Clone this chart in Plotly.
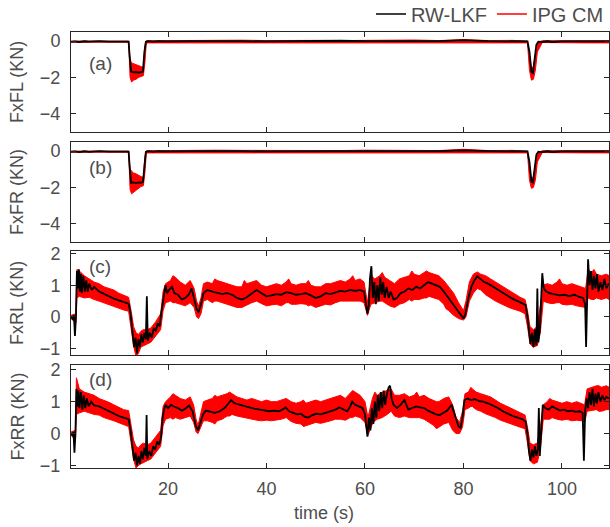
import plotly.graph_objects as go

# ---------------- data ----------------
TIME_TICKS = [20, 40, 60, 80, 100]
PANEL_NAMES = ["FxFL (KN)", "FxFR (KN)", "FxRL (KN)", "FxRR (KN)"]
PANEL_TAGS = ["(a)", "(b)", "(c)", "(d)"]

# RW-LKF estimate (black) : (time s, force kN)
FXFL_RWLKF = [(0.3, -0.04), (1, -0.02), (2, -0.05), (3, -0.01), (4, -0.03), (6, 0.0), (8, -0.03), (10, -0.02),
              (12.0, -0.03), (12.2, -0.8), (12.5, -1.68), (13, -1.72), (13.5, -1.7), (14, -1.73), (14.5, -1.72),
              (14.9, -1.68), (15.2, -0.6), (15.5, -0.04), (16, 0.0), (17, -0.03), (18, 0.0), (20, -0.02),
              (25, 0.0), (30, 0.02), (35, 0.0), (40, -0.02), (45, 0.0), (50, 0.0), (55, 0.02), (60, 0.0),
              (65, -0.02), (70, 0.0), (75, 0.0), (80, 0.05), (85, 0.0), (90, -0.02), (93.0, -0.02),
              (93.4, -0.6), (93.8, -1.7), (94.1, -1.75), (94.5, -1.0), (94.8, -0.2), (95.2, -0.03),
              (96, -0.05), (97, -0.01), (98, -0.05), (100, -0.02), (105, -0.03), (109.6, -0.02)]

FXFR_RWLKF = [(0.3, -0.04), (1, -0.02), (2, -0.06), (3, -0.01), (4, -0.04), (6, 0.0), (8, -0.03), (10, -0.02),
              (12.0, -0.03), (12.2, -0.8), (12.5, -1.75), (13, -1.72), (13.5, -1.76), (14, -1.72), (14.5, -1.74),
              (14.9, -1.7), (15.2, -0.6), (15.5, -0.04), (16, 0.0), (17, -0.03), (18, 0.0), (20, -0.02),
              (25, 0.0), (30, 0.02), (35, 0.0), (40, -0.02), (45, 0.0), (50, 0.0), (55, 0.0), (60, 0.0),
              (65, -0.02), (70, 0.0), (75, 0.0), (80, 0.04), (85, 0.0), (90, -0.02), (93.0, -0.02),
              (93.4, -0.6), (93.8, -1.68), (94.1, -1.72), (94.5, -1.0), (94.8, -0.2), (95.2, -0.03),
              (96, -0.06), (97, -0.01), (98, -0.05), (100, -0.02), (105, -0.03), (109.6, -0.02)]

FXRL_RWLKF = [(0.3, 0.0), (0.6, -0.05), (0.9, 0.05), (1.1, -0.6), (1.3, 0.0), (1.5, 1.45), (1.7, 0.9), (1.9, 1.5),
              (2.1, 0.8), (2.3, 1.35), (2.5, 0.75), (2.8, 1.3), (3.1, 0.8), (3.4, 1.15), (3.7, 0.8), (4.0, 1.05),
              (4.5, 0.85), (5.0, 0.95), (6, 0.8), (7, 0.72), (8, 0.65), (9, 0.58), (10, 0.52), (11, 0.46),
              (12, 0.42), (12.4, 0.1), (12.8, -0.5), (13.1, -0.95), (13.4, -0.65), (13.7, -1.15), (14.0, -0.7),
              (14.3, -0.95), (14.6, -0.55), (14.9, -0.8), (15.2, -0.5), (15.5, -0.7), (15.7, 0.65), (15.9, -0.75),
              (16.3, -0.5), (16.7, -0.65), (17.1, -0.35), (17.5, -0.45), (17.9, -0.2), (18.3, -0.3), (18.6, 0.1),
              (18.9, 0.45), (19.2, 0.7), (19.5, 1.0), (19.8, 0.75), (20.2, 0.85), (20.8, 0.95), (21.3, 0.75),
              (22, 0.7), (22.8, 0.55), (23.5, 0.6), (24.2, 0.7), (24.8, 0.9), (25.3, 0.6), (25.8, 0.25),
              (26.2, 0.15), (26.7, 0.4), (27.2, 0.75), (28, 0.85), (29, 0.8), (30, 0.75), (31, 0.72), (32, 0.75),
              (33, 0.7), (34, 0.6), (35, 0.55), (36, 0.62), (37, 0.75), (38, 0.85), (39, 0.75), (40, 0.65),
              (41, 0.68), (42, 0.72), (43, 0.7), (44, 0.78), (45, 0.75), (46, 0.7), (47, 0.72), (48, 0.75),
              (49, 0.68), (50, 0.6), (51, 0.65), (52, 0.75), (53, 0.72), (54, 0.78), (55, 0.82), (56, 0.8),
              (57, 0.85), (58, 0.82), (59, 0.85), (59.8, 0.8), (60.2, 0.3), (60.5, 0.1), (60.8, 0.4), (61.0, 1.2),
              (61.3, 1.6), (61.6, 0.6), (61.9, 1.1), (62.2, 0.4), (62.5, 1.0), (62.8, 0.5), (63.1, 1.25),
              (63.4, 0.7), (63.7, 1.1), (64.0, 0.6), (64.4, 0.95), (64.8, 0.6), (65.2, 0.8), (65.8, 0.55),
              (66.5, 0.6), (67.2, 0.75), (68, 0.8), (68.8, 0.9), (69.6, 0.85), (70.4, 0.95), (71.2, 0.9),
              (72, 1.0), (72.8, 1.1), (73.6, 1.05), (74.4, 1.0), (75.2, 0.95), (76, 0.8), (76.7, 0.65),
              (77.5, 0.45), (78.3, 0.3), (79.2, 0.1), (80.0, -0.05), (80.4, 0.1), (81.0, 0.6), (81.6, 0.95),
              (82.2, 1.15), (82.8, 1.28), (83.4, 1.2), (84.2, 1.1), (85, 1.05), (86, 0.95), (87, 0.85),
              (88, 0.75), (89, 0.65), (90, 0.57), (91, 0.5), (92, 0.44), (92.6, 0.38), (93.0, 0.0),
              (93.3, -0.5), (93.6, -0.85), (93.9, -0.5), (94.2, -0.95), (94.5, -0.4), (94.8, -0.9), (95.0, 0.9),
              (95.2, -0.8), (95.5, -0.4), (95.8, 0.6), (96.0, 1.38), (96.3, 0.9), (96.8, 0.8), (97.5, 0.75),
              (98.5, 0.72), (99.5, 0.68), (100.5, 0.7), (101.5, 0.66), (102.5, 0.7), (103.5, 0.63), (104.3, 0.6),
              (104.7, 0.4), (104.9, -0.95), (105.1, 0.5), (105.3, 1.82), (105.6, 1.0), (105.9, 1.45),
              (106.2, 0.85), (106.5, 1.3), (106.8, 0.9), (107.1, 1.35), (107.4, 0.8), (107.8, 1.1),
              (108.2, 0.85), (108.6, 1.2), (109.0, 0.9), (109.5, 1.05)]

FXRR_RWLKF = [(0.3, 0.0), (0.6, -0.05), (0.8, 0.05), (1.0, -0.6), (1.2, 0.0), (1.4, 1.4), (1.6, 0.85), (1.8, 1.35),
              (2.0, 0.8), (2.3, 1.3), (2.6, 0.75), (2.9, 1.2), (3.2, 0.8), (3.5, 1.1), (3.9, 0.85), (4.4, 1.0),
              (5, 0.88), (6, 0.85), (7, 0.78), (8, 0.7), (9, 0.62), (10, 0.55), (11, 0.5), (12, 0.45),
              (12.4, 0.1), (12.8, -0.4), (13.1, -0.85), (13.4, -0.6), (13.7, -1.0), (14.0, -0.7), (14.3, -0.95),
              (14.6, -0.55), (14.9, -0.8), (15.2, -0.45), (15.5, -0.7), (15.65, 0.58), (15.8, -0.8),
              (16.2, -0.55), (16.6, -0.7), (17.0, -0.4), (17.4, -0.5), (17.8, -0.25), (18.2, -0.35),
              (18.6, -0.1), (18.9, 0.5), (19.2, 0.75), (19.5, 0.9), (20.0, 0.8), (20.6, 0.9), (21.2, 0.85),
              (22, 0.8), (22.8, 0.72), (23.5, 0.78), (24.3, 0.88), (25, 0.7), (25.6, 0.25), (26.1, 0.1),
              (26.6, 0.35), (27.1, 0.6), (27.7, 0.72), (28.5, 0.68), (29.5, 0.65), (30.5, 0.7), (31.5, 0.8),
              (32.3, 0.95), (32.8, 1.05), (33.5, 0.95), (34.5, 0.9), (35.5, 0.85), (36.5, 0.82), (37.5, 0.78),
              (38.5, 0.75), (39.5, 0.72), (40.5, 0.7), (41.5, 0.72), (42.5, 0.7), (43.2, 0.75), (43.9, 0.82),
              (44.6, 0.7), (45.4, 0.65), (46.2, 0.6), (47, 0.62), (47.8, 0.52), (48.5, 0.5), (49.3, 0.58),
              (50.1, 0.62), (51, 0.6), (52, 0.65), (53, 0.7), (54, 0.75), (54.8, 0.82), (55.6, 0.75),
              (56.4, 0.7), (57.0, 0.85), (57.4, 1.0), (58, 0.9), (58.8, 0.85), (59.5, 0.8), (60.0, 0.6),
              (60.3, 0.2), (60.5, -0.1), (60.8, 0.5), (61.1, 0.1), (61.4, 0.8), (61.7, 0.3), (62.0, 1.0),
              (62.3, 0.5), (62.6, 1.2), (62.9, 0.7), (63.2, 1.3), (63.5, 0.8), (63.8, 1.35), (64.1, 0.9),
              (64.4, 1.2), (64.8, 1.45), (65.1, 1.5), (65.4, 1.1), (65.8, 0.9), (66.5, 0.8), (67.2, 0.9),
              (68, 1.05), (68.8, 0.75), (69.6, 0.8), (70.4, 0.85), (71.2, 0.82), (72, 0.8), (72.8, 0.72),
              (73.6, 0.65), (74.4, 0.6), (75.2, 0.58), (76, 0.65), (76.7, 0.72), (77.3, 0.85), (77.6, 0.9),
              (78.0, 0.7), (78.5, 0.45), (79.0, 0.22), (79.4, 0.18), (79.8, 0.5), (80.2, 1.05), (80.8, 1.1),
              (81.5, 1.05), (82.3, 1.08), (83.2, 1.02), (84, 1.0), (85, 0.95), (86, 0.88), (87, 0.8), (88, 0.7),
              (89, 0.62), (90, 0.55), (91, 0.5), (92, 0.45), (92.6, 0.38), (93.0, 0.0), (93.3, -0.55),
              (93.6, -0.85), (93.9, -0.5), (94.2, -0.75), (94.5, -0.4), (94.8, -0.7), (95.1, -0.5), (95.3, 0.8),
              (95.5, -0.7), (95.8, 0.2), (96.1, 0.9), (96.6, 0.8), (97.3, 0.75), (98, 0.85), (98.8, 0.78),
              (99.6, 0.72), (100.4, 0.75), (101.2, 0.7), (102, 0.72), (102.8, 0.68), (103.6, 0.7), (104.2, 0.65),
              (104.45, -0.85), (104.7, 0.7), (105.0, 1.1), (105.3, 0.8), (105.6, 1.3), (105.9, 0.9),
              (106.2, 1.4), (106.5, 0.85), (106.8, 1.25), (107.1, 0.95), (107.4, 1.3), (107.8, 1.0),
              (108.2, 1.2), (108.6, 1.05), (109.0, 1.15), (109.5, 1.1)]

# IPG CarMaker reference (red, very noisy): envelope (time s, upper kN, lower kN)
FXFL_IPG = [(0.3, 0.0, -0.06), (5, 0.02, -0.05), (10, 0.0, -0.06), (12.0, 0.0, -0.06), (12.3, -1.0, -2.0),
            (12.6, -1.2, -2.25), (13.0, -1.25, -2.15), (13.5, -1.3, -2.1), (14.0, -1.35, -2.0),
            (14.5, -1.4, -1.95), (15.0, -1.45, -1.9), (15.3, -0.3, -1.2), (15.6, 0.02, -0.1), (20, 0.03, -0.08),
            (25, 0.05, -0.1), (30, 0.06, -0.1), (35, 0.05, -0.08), (40, 0.03, -0.1), (45, 0.05, -0.1),
            (50, 0.04, -0.12), (55, 0.03, -0.08), (60, 0.05, -0.1), (65, 0.04, -0.1), (70, 0.06, -0.08),
            (75, 0.03, -0.1), (80, 0.08, -0.08), (85, 0.03, -0.1), (90, 0.04, -0.1), (93.0, 0.0, -0.1),
            (93.4, -0.9, -1.6), (93.8, -1.5, -2.15), (94.2, -1.4, -2.1), (94.6, -0.8, -1.6), (95.0, -0.1, -0.6),
            (96, 0.02, -0.08), (100, 0.04, -0.1), (105, 0.03, -0.1), (109.6, 0.03, -0.1)]

FXFR_IPG = [(0.3, 0.0, -0.06), (5, 0.02, -0.05), (10, 0.0, -0.06), (12.0, 0.0, -0.06), (12.3, -1.0, -2.1),
            (12.6, -1.1, -2.35), (13.0, -1.2, -2.25), (13.5, -1.25, -2.15), (14.0, -1.35, -2.05),
            (14.5, -1.4, -1.95), (15.0, -1.45, -1.9), (15.3, -0.3, -1.2), (15.6, 0.02, -0.1), (20, 0.03, -0.08),
            (25, 0.06, -0.1), (30, 0.05, -0.1), (35, 0.04, -0.08), (40, 0.03, -0.1), (45, 0.05, -0.1),
            (50, 0.04, -0.12), (55, 0.03, -0.08), (60, 0.05, -0.1), (65, 0.04, -0.1), (70, 0.05, -0.08),
            (75, 0.03, -0.1), (80, 0.1, -0.08), (85, 0.03, -0.1), (90, 0.04, -0.1), (93.0, 0.0, -0.1),
            (93.4, -0.9, -1.6), (93.8, -1.5, -2.05), (94.2, -1.4, -2.0), (94.6, -0.8, -1.6), (95.0, -0.1, -0.6),
            (96, 0.02, -0.08), (100, 0.04, -0.1), (105, 0.03, -0.1), (109.6, 0.03, -0.1)]

FXRL_IPG = [(0.3, 0.05, -0.05), (1.3, 0.1, -0.2), (1.5, 1.5, 0.6), (2, 1.45, 0.65), (3, 1.3, 0.6), (4, 1.2, 0.62),
            (5, 1.1, 0.55), (6, 1.05, 0.5), (7, 0.95, 0.45), (8, 0.9, 0.38), (9, 0.85, 0.32), (10, 0.75, 0.28),
            (11, 0.68, 0.22), (12, 0.62, 0.18), (12.5, 0.2, -0.3), (13, -0.3, -0.9), (13.5, -0.5, -1.25),
            (14, -0.55, -1.15), (14.5, -0.45, -0.95), (15, -0.4, -0.9), (15.8, -0.4, -0.85), (16.5, -0.35, -0.8),
            (17.5, -0.15, -0.6), (18.5, 0.1, -0.4), (19, 0.8, 0.2), (19.5, 1.05, 0.45), (20.5, 1.15, 0.5),
            (21.0, 1.3, 0.45), (21.5, 1.25, 0.45), (22.5, 1.1, 0.4), (23.5, 1.0, 0.35), (24.5, 1.15, 0.45),
            (25.3, 0.9, 0.3), (25.8, 0.5, 0.0), (26.2, 0.35, -0.05), (26.7, 0.6, 0.1), (27.2, 1.05, 0.5),
            (28, 1.1, 0.55), (29, 1.05, 0.45), (29.5, 1.2, 0.5), (30, 1.15, 0.5), (31, 1.1, 0.45),
            (32, 1.05, 0.4), (33, 1.0, 0.35), (34, 0.95, 0.3), (35, 0.95, 0.3), (35.5, 1.15, 0.35),
            (36, 1.05, 0.38), (37, 1.1, 0.45), (38, 1.15, 0.5), (39, 1.0, 0.42), (40, 0.95, 0.35),
            (41, 1.0, 0.38), (42, 1.05, 0.4), (43, 1.0, 0.35), (44, 1.1, 0.45), (44.5, 1.2, 0.45),
            (45, 1.05, 0.4), (46, 1.0, 0.4), (47, 1.05, 0.42), (48, 1.05, 0.4), (48.5, 1.15, 0.35),
            (49, 1.0, 0.38), (50, 0.95, 0.3), (51, 0.95, 0.35), (52, 1.05, 0.4), (53, 1.05, 0.38),
            (54, 1.1, 0.45), (55, 1.15, 0.5), (56, 1.1, 0.48), (57, 1.2, 0.5), (57.5, 1.3, 0.5),
            (58, 1.15, 0.5), (59, 1.2, 0.5), (59.8, 1.1, 0.45), (60.5, 0.45, 0.05), (61.2, 1.3, 0.4),
            (62, 1.2, 0.45), (63, 1.3, 0.5), (63.5, 1.4, 0.5), (64, 1.25, 0.45), (65, 1.15, 0.35),
            (66, 1.05, 0.3), (67, 1.2, 0.4), (68, 1.25, 0.45), (69, 1.3, 0.55), (69.5, 1.45, 0.5),
            (70, 1.35, 0.55), (71, 1.3, 0.55), (72, 1.4, 0.6), (72.5, 1.45, 0.6), (73, 1.4, 0.65),
            (74, 1.35, 0.6), (75, 1.3, 0.55), (76, 1.15, 0.4), (76.5, 1.05, 0.25), (77, 0.95, 0.2),
            (78, 0.75, 0.05), (79, 0.45, -0.05), (80, 0.2, -0.1), (80.5, 0.5, 0.0), (81.2, 1.1, 0.5),
            (82, 1.35, 0.75), (82.8, 1.42, 0.9), (83.5, 1.35, 0.85), (84.5, 1.3, 0.7), (85.5, 1.2, 0.6),
            (86.5, 1.1, 0.5), (87.5, 1.0, 0.42), (88.5, 0.92, 0.35), (89.5, 0.82, 0.28), (90.5, 0.72, 0.22),
            (91.5, 0.62, 0.18), (92.5, 0.55, 0.1), (93, 0.2, -0.3), (93.5, -0.3, -0.85), (94.2, -0.4, -0.95),
            (95, -0.3, -0.9), (95.6, 0.3, -0.5), (96.2, 1.0, 0.5), (97, 1.05, 0.45), (98, 1.0, 0.42),
            (99, 1.1, 0.45), (99.5, 1.2, 0.45), (100, 1.05, 0.4), (101, 1.0, 0.38), (102, 1.05, 0.4),
            (103, 1.0, 0.35), (104, 0.95, 0.32), (104.8, 0.9, 0.3), (105.3, 1.5, 0.6), (106, 1.4, 0.55),
            (106.5, 1.5, 0.55), (107, 1.35, 0.6), (108, 1.3, 0.55), (109, 1.35, 0.6), (109.6, 1.3, 0.55)]

FXRR_IPG = [(0.3, 0.05, -0.05), (1.2, 0.1, -0.2), (1.4, 1.75, 0.6), (2, 1.4, 0.65), (3, 1.3, 0.7), (4, 1.25, 0.65),
            (5, 1.2, 0.6), (6, 1.1, 0.58), (7, 1.05, 0.5), (8, 0.98, 0.45), (9, 0.9, 0.4), (10, 0.82, 0.35),
            (11, 0.75, 0.28), (12, 0.72, 0.22), (12.5, 0.2, -0.3), (13, -0.2, -0.8), (13.5, -0.4, -1.08),
            (14, -0.45, -1.0), (14.5, -0.35, -0.95), (15, -0.3, -0.9), (15.8, -0.35, -0.85), (16.5, -0.3, -0.8),
            (17.5, -0.1, -0.6), (18.5, 0.1, -0.4), (19, 0.85, 0.25), (19.5, 1.0, 0.45), (20.5, 1.15, 0.5),
            (21.0, 1.25, 0.45), (21.5, 1.2, 0.5), (22.5, 1.1, 0.45), (23.5, 1.05, 0.5), (24.5, 1.15, 0.55),
            (25.2, 0.9, 0.35), (25.7, 0.45, 0.05), (26.1, 0.25, 0.0), (26.6, 0.55, 0.15), (27.2, 1.0, 0.4),
            (28, 1.05, 0.4), (29, 1.1, 0.35), (29.5, 1.2, 0.3), (30, 1.15, 0.4), (31, 1.2, 0.45),
            (32, 1.25, 0.55), (32.5, 1.3, 0.55), (33, 1.25, 0.6), (34, 1.15, 0.55), (35, 1.1, 0.5),
            (36, 1.05, 0.48), (37, 1.1, 0.45), (38, 1.05, 0.42), (39, 1.0, 0.4), (40, 1.05, 0.42),
            (41, 1.0, 0.4), (42, 1.0, 0.42), (43, 1.05, 0.45), (44, 1.1, 0.5), (45, 1.0, 0.38),
            (46, 0.95, 0.32), (47, 1.0, 0.3), (47.5, 1.05, 0.22), (48, 0.95, 0.25), (49, 1.0, 0.3),
            (50, 1.05, 0.35), (51, 1.0, 0.32), (52, 1.05, 0.35), (53, 1.1, 0.4), (54, 1.15, 0.45),
            (55, 1.2, 0.45), (56, 1.1, 0.42), (57, 1.25, 0.5), (57.5, 1.35, 0.5), (58, 1.3, 0.55),
            (59, 1.2, 0.5), (60, 1.0, 0.35), (60.6, 0.5, -0.05), (61.5, 1.1, 0.3), (62.0, 1.3, 0.4),
            (62.5, 1.2, 0.45), (63.5, 1.3, 0.5), (64.5, 1.35, 0.6), (65.3, 1.4, 0.7), (66, 1.2, 0.55),
            (67, 1.2, 0.5), (68, 1.25, 0.55), (69, 1.15, 0.5), (70, 1.2, 0.5), (70.5, 1.3, 0.5),
            (71, 1.15, 0.5), (72, 1.2, 0.45), (73, 1.1, 0.35), (74, 1.05, 0.25), (74.5, 1.0, 0.15),
            (75, 1.0, 0.2), (76, 1.1, 0.3), (77, 1.15, 0.35), (77.8, 0.9, 0.1), (78.5, 0.5, 0.0),
            (79.2, 0.35, 0.0), (79.8, 0.7, 0.2), (80.3, 1.25, 0.75), (81, 1.3, 0.8), (81.5, 1.45, 0.85),
            (81.8, 1.4, 0.85), (82.6, 1.3, 0.75), (83.5, 1.25, 0.7), (84.5, 1.2, 0.62), (85.5, 1.15, 0.55),
            (86.5, 1.05, 0.5), (87.5, 0.95, 0.42), (88.5, 0.88, 0.35), (89.5, 0.8, 0.3), (90.5, 0.72, 0.25),
            (91.5, 0.65, 0.2), (92.5, 0.58, 0.15), (93, 0.2, -0.3), (93.5, -0.3, -0.85), (94.2, -0.35, -0.95),
            (95, -0.3, -0.9), (95.6, 0.2, -0.5), (96.2, 0.9, 0.45), (97, 1.0, 0.45), (97.5, 1.1, 0.45),
            (98, 1.05, 0.5), (99, 1.0, 0.45), (100, 0.95, 0.42), (101, 1.0, 0.45), (102, 0.95, 0.4),
            (103, 1.0, 0.42), (104, 0.95, 0.4), (104.6, 0.9, 0.35), (105.1, 1.4, 0.7), (106, 1.45, 0.72),
            (107, 1.5, 0.75), (107.5, 1.5, 0.7), (108, 1.45, 0.7), (109, 1.5, 0.75), (109.6, 1.45, 0.75)]

Y_RANGES = [[-5, 0.5], [-5, 0.5], [-1.2, 2.08], [-1.08, 2.15]]
Y_TICKS = [[-4, -2, 0], [-4, -2, 0], [-1, 0, 1, 2], [-1, 0, 1, 2]]
X_RANGE = [0.3, 109.55]

# ---------------- figure ----------------
W, H = 610, 527
ML, MR, MT, MB = 71, 1, 32, 59
plot_h = H - MT - MB
# panel pixel extents (top, bottom)
PANELS_PX = [(32, 132), (142, 242), (251, 355), (365, 468)]

AX_COL = "#262626"
TXT_COL = "#4d4d4d"
FONT = "Liberation Sans, Arial, Helvetica, sans-serif"

black_sets = [FXFL_RWLKF, FXFR_RWLKF, FXRL_RWLKF, FXRR_RWLKF]
red_sets = [FXFL_IPG, FXFR_IPG, FXRL_IPG, FXRR_IPG]

fig = go.Figure()
for i in range(4):
    xa = "x" if i == 0 else f"x{i+1}"
    ya = "y" if i == 0 else f"y{i+1}"
    rt = [p[0] for p in red_sets[i]]
    ru = [p[1] for p in red_sets[i]]
    rl = [p[2] for p in red_sets[i]]
    fig.add_trace(go.Scatter(x=rt + rt[::-1], y=ru + rl[::-1], fill="toself",
                             fillcolor="#ff0000", line=dict(color="#ff0000", width=1),
                             mode="lines", showlegend=False, xaxis=xa, yaxis=ya, hoverinfo="skip"))
    fig.add_trace(go.Scatter(x=[p[0] for p in black_sets[i]], y=[p[1] for p in black_sets[i]],
                             mode="lines", line=dict(color="#000000", width=1.8),
                             showlegend=False, xaxis=xa, yaxis=ya))

# legend entries
fig.add_trace(go.Scatter(x=[None], y=[None], mode="lines", name="RW-LKF",
                         line=dict(color="#000000", width=1.5)))
fig.add_trace(go.Scatter(x=[None], y=[None], mode="lines", name="IPG CM",
                         line=dict(color="#ff0000", width=1.5)))

layout = dict(
    width=W, height=H, margin=dict(l=ML, r=MR, t=MT, b=MB, autoexpand=False),
    paper_bgcolor="white", plot_bgcolor="white",
    font=dict(family=FONT, color=TXT_COL, size=18),
    showlegend=True,
    legend=dict(orientation="h", x=1.0, xanchor="right", y=(H - MB - 14) / plot_h, yanchor="middle",
                font=dict(size=20, color=TXT_COL), bgcolor="rgba(0,0,0,0)",
                itemwidth=30, tracegroupgap=0),
)
annotations = []
for i in range(4):
    top, bot = PANELS_PX[i]
    dom = [(H - MB - bot) / plot_h, (H - MB - top) / plot_h]
    xk = "xaxis" if i == 0 else f"xaxis{i+1}"
    yk = "yaxis" if i == 0 else f"yaxis{i+1}"
    ya = "y" if i == 0 else f"y{i+1}"
    xa = "x" if i == 0 else f"x{i+1}"
    layout[xk] = dict(domain=[0, 1], anchor=ya, range=X_RANGE, tickvals=TIME_TICKS,
                      showticklabels=(i == 3), ticks="inside", ticklen=5, tickcolor=AX_COL,
                      showline=True, linecolor=AX_COL, linewidth=1, mirror="ticks",
                      showgrid=False, zeroline=False, ticklabelstandoff=4,
                      tickfont=dict(size=18, color=TXT_COL))
    if i > 0:
        layout[xk]["matches"] = "x"
    layout[yk] = dict(domain=dom, anchor=xa, range=Y_RANGES[i], tickvals=Y_TICKS[i],
                      ticks="inside", ticklen=5, tickcolor=AX_COL,
                      showline=True, linecolor=AX_COL, linewidth=1, mirror="ticks",
                      showgrid=False, zeroline=False, ticklabelstandoff=6,
                      tickfont=dict(size=18, color=TXT_COL))
    annotations.append(dict(text=PANEL_NAMES[i], xref="paper", yref=f"{ya} domain",
                            x=(17 - ML) / (W - ML - MR), y=0.5, textangle=-90, showarrow=False,
                            xanchor="center", yanchor="middle",
                            font=dict(size=18, color=TXT_COL)))
tag_y = [0.69, 0.75, 0.85, 0.86]
for i in range(4):
    ya = "y" if i == 0 else f"y{i+1}"
    xa = "x" if i == 0 else f"x{i+1}"
    annotations.append(dict(text=PANEL_TAGS[i], xref=f"{xa} domain", yref=f"{ya} domain",
                            x=(87 - ML) / (W - ML - MR), y=tag_y[i], showarrow=False,
                            xanchor="left", yanchor="middle", font=dict(size=19, color=TXT_COL)))
annotations.append(dict(text="time (s)", xref="paper", yref="paper",
                        x=(324 - ML) / (W - ML - MR), y=(H - MB - 513) / plot_h, showarrow=False,
                        xanchor="center", yanchor="middle", font=dict(size=18, color=TXT_COL)))
layout["annotations"] = annotations
fig.update_layout(**layout)
fig.write_html("out.html")
